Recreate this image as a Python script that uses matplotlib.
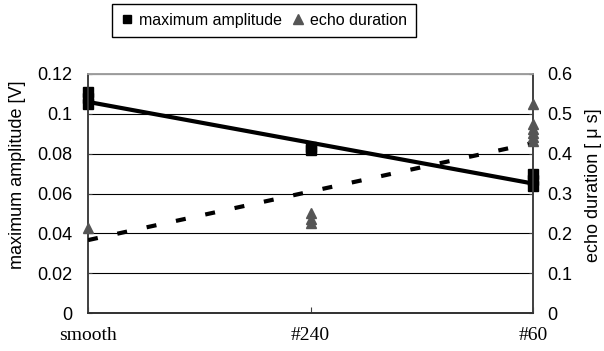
import numpy as np
import matplotlib
matplotlib.use('Agg')
import matplotlib.pyplot as plt
from matplotlib.lines import Line2D

# data -------------------------------------------
categories = ['smooth', '#240', '#60']

amp_x = [0, 0, 0, 1, 1, 2, 2, 2]
amp_y = [0.105, 0.108, 0.111, 0.0816, 0.0831, 0.064, 0.067, 0.070]

echo_x = [0, 1, 1, 1, 2, 2, 2, 2, 2, 2]
echo_y = [0.213, 0.225, 0.237, 0.25, 0.433, 0.443, 0.453, 0.463, 0.474, 0.525]

# trend lines (endpoints at smooth and #60)
trend_x = [0, 2]
amp_trend = [0.106, 0.065]
echo_trend = [0.183, 0.427]
# -------------------------------------------------

plt.rcParams['font.family'] = ['Liberation Sans', 'DejaVu Sans']

fig = plt.figure(figsize=(6.04, 3.51), dpi=100)
ax = fig.add_axes([88/604, 1-313/351, (533-88)/604, (313-74)/351])
ax2 = ax.twinx()

ax.plot(trend_x, amp_trend, color='black', lw=3.0, solid_capstyle='butt', zorder=3)
ax.plot(amp_x, amp_y, ls='none', marker='s', ms=6.5, color='black', clip_on=False, zorder=4)

ax2.plot(trend_x, echo_trend, color='black', lw=3.0, linestyle=(0, (2.4, 4.8)), zorder=3)
ax2.plot(echo_x, echo_y, ls='none', marker='^', ms=7, color='#555555', clip_on=False, zorder=4)

ax.set_xlim(0, 2)
ax.set_ylim(0, 0.12)
ax2.set_ylim(0, 0.6)
ax.set_xticks(range(len(categories)))
ax.set_xticklabels(categories, fontsize=14, family='Liberation Serif')
ax.set_yticks(np.arange(0, 0.1201, 0.02))
ax.set_yticklabels(['0', '0.02', '0.04', '0.06', '0.08', '0.1', '0.12'], fontsize=13)
ax2.set_yticks(np.arange(0, 0.601, 0.1))
ax2.set_yticklabels(['0', '0.1', '0.2', '0.3', '0.4', '0.5', '0.6'], fontsize=13)

ax.yaxis.grid(True, color='black', lw=0.8)
ax.set_axisbelow(True)
ax.tick_params(axis='y', direction='in', length=3, color='#404040', pad=11)
ax.tick_params(axis='x', direction='in', length=4, color='#404040', pad=10)
ax2.tick_params(direction='in', length=3, color='#404040', pad=10)

for a in (ax, ax2):
    a.spines['top'].set_color('#a0a0a0')
    a.spines['left'].set_color('#404040')
    a.spines['right'].set_color('#404040')
    a.spines['bottom'].set_color('#303030')
    for s in a.spines.values():
        s.set_linewidth(1.2)

ax.set_ylabel('maximum amplitude [V]', fontsize=13)
ax.yaxis.set_label_coords((26-88)/445, 0.58)
ax2.set_ylabel('echo duration [ \u03bc s]', fontsize=13)
ax2.yaxis.set_label_coords((585-88)/445, 0.535)

handles = [Line2D([], [], ls='none', marker='s', ms=6, color='black'),
           Line2D([], [], ls='none', marker='^', ms=6.5, color='#555555')]
fig.legend(handles, ['maximum amplitude', 'echo duration'], loc='upper center',
           bbox_to_anchor=(264/604, 1-4/351), ncol=2, fontsize=11.5,
           frameon=True, fancybox=False, edgecolor='black', framealpha=1,
           handlelength=0.8, handletextpad=0.35, columnspacing=0.6,
           borderpad=0.55, borderaxespad=0)

fig.savefig('out.png', dpi=100)
